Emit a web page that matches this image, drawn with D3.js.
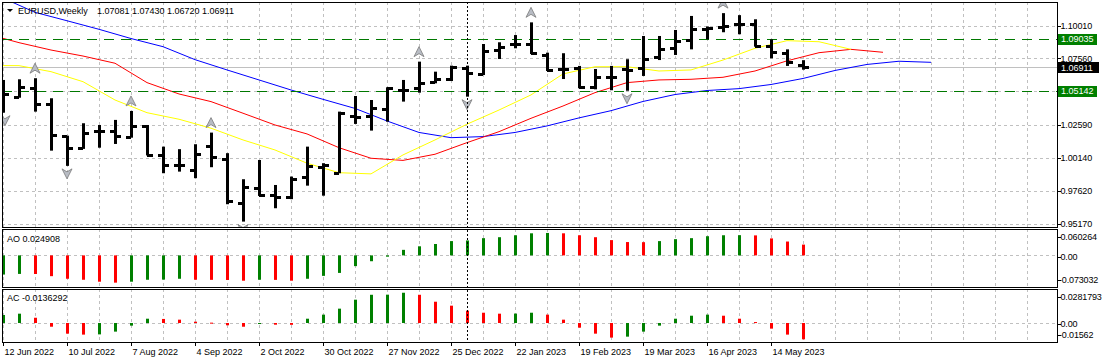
<!DOCTYPE html>
<html>
<head>
<meta charset="utf-8">
<script src="https://cdn.jsdelivr.net/npm/d3@7"></script>
<style>
  body { margin: 0; background: #fff; }
  svg { display: block; }
  text { font-family: "Liberation Sans", Arial, sans-serif; font-size: 9px; fill: #000; }
</style>
</head>
<body>
<script>
var W = 1102, H = 363;

// weekly EURUSD bars, first bar = 12 Jun 2022
var opens  = [1.0505,1.0470,1.0533,1.0413,1.0176,1.0088,1.0216,1.0213,1.0171,1.0253,1.0034,0.9962,0.9922,1.0101,1.0004,0.9673,0.9789,0.9735,0.9722,0.9872,0.9946,0.9901,1.0326,1.0326,1.0376,1.0522,1.0533,1.0582,1.0602,1.0687,1.0640,1.0819,1.0862,1.0862,1.0782,1.0677,1.0687,1.0540,1.0620,1.0675,1.0682,1.0769,1.0836,1.0894,1.0978,1.0989,1.1012,1.1012,1.0849,1.0795,1.07081];
var highs  = [1.0595,1.0600,1.0608,1.0458,1.0178,1.0271,1.0258,1.0296,1.0363,1.0258,1.0096,1.0077,1.0114,1.0201,1.0047,0.9852,0.9996,0.9809,0.9872,1.0096,0.9972,1.0358,1.0475,1.0445,1.0540,1.0595,1.0732,1.0657,1.0702,1.0702,1.0864,1.0877,1.0931,1.1026,1.0799,1.0795,1.0700,1.0677,1.0700,1.0750,1.0924,1.0924,1.0969,1.1074,1.0995,1.1095,1.1080,1.1049,1.0899,1.0824,1.07430];
var lows   = [1.0350,1.0462,1.0358,1.0066,0.9952,1.0079,1.0088,1.0116,1.0163,1.0030,0.9897,0.9909,0.9860,0.9942,0.9665,0.9535,0.9727,0.9635,0.9703,0.9804,0.9729,0.9897,1.0266,1.0216,1.0283,1.0433,1.0500,1.0570,1.0587,1.0470,1.0632,1.0752,1.0832,1.0789,1.0662,1.0602,1.0533,1.0525,1.0518,1.05142,1.0625,1.0744,1.0782,1.0824,1.0899,1.0952,1.0937,1.0844,1.0757,1.0700,1.06720];
var closes = [1.0490,1.0545,1.0415,1.0183,1.0084,1.0201,1.0213,1.0178,1.0253,1.0034,0.9959,0.9959,1.0039,1.0017,0.9690,0.9797,0.9735,0.9722,0.9854,0.9954,0.9960,1.0350,1.0321,1.0388,1.0533,1.0518,1.0575,1.0602,1.0694,1.0645,1.0814,1.0844,1.0866,1.0795,1.0670,1.0680,1.0540,1.0620,1.0615,1.0670,1.0750,1.0827,1.0889,1.0976,1.0982,1.1001,1.1012,1.0849,1.0807,1.0727,1.06911];

// alligator lines read every 2nd bar (jaw from bar 0, teeth and lips from bar -1)
var jaw   = [1.1208,1.1101,1.1038,1.0974,1.0905,1.0844,1.0747,1.0670,1.0595,1.0520,1.0450,1.0382,1.0288,1.0202,1.0163,1.0171,1.0202,1.0251,1.0311,1.0365,1.0434,1.0486,1.0516,1.0530,1.0561,1.0606,1.0666,1.0711,1.0735,1.0727];
var teeth = [1.0939,1.0874,1.0819,1.0774,1.0720,1.0575,1.0490,1.0433,1.0346,1.0258,1.0191,1.0088,1.0009,0.9993,1.0039,1.0126,1.0208,1.0308,1.0400,1.0500,1.0575,1.0595,1.0600,1.0615,1.0662,1.0738,1.0799,1.0824,1.0802];
var lips  = [1.0703,1.0702,1.0657,1.0582,1.0445,1.0350,1.0301,1.0234,1.0146,1.0071,0.9972,0.9901,0.9892,1.0034,1.0146,1.0264,1.0370,1.0483,1.0640,1.0694,1.0694,1.0662,1.0670,1.0744,1.0832,1.0889,1.0881,1.0824];

var fractalUp = [2, 8, 13, 26, 33, 45];
var fractalDown = [0, 4, 15, 29, 39];

var ao = [-0.0443,-0.0428,-0.0430,-0.0480,-0.0540,-0.0563,-0.0608,-0.0630,-0.0608,-0.0563,-0.0560,-0.0540,-0.0563,-0.0565,-0.0568,-0.0585,-0.0563,-0.0566,-0.0585,-0.0540,-0.0473,-0.0405,-0.0248,-0.0135,-0.0030,0.0128,0.0210,0.0263,0.0330,0.0345,0.0398,0.0420,0.0465,0.0510,0.0518,0.0510,0.0465,0.0420,0.0353,0.0308,0.0305,0.0330,0.0375,0.0398,0.0443,0.0465,0.0467,0.0462,0.0392,0.0320,0.024908];
var ac = [0.0067,0.0078,0.0044,-0.0031,-0.0089,-0.0097,-0.0095,-0.0072,-0.0022,0.0036,0.0034,0.0028,0.0011,0.0003,-0.0019,-0.0031,-0.0003,-0.0014,-0.0015,0.0036,0.0070,0.0120,0.0195,0.0236,0.0237,0.0253,0.0236,0.0178,0.0145,0.0103,0.0086,0.0078,0.0079,0.0086,0.0070,0.0028,-0.0039,-0.0089,-0.0122,-0.0114,-0.0072,-0.0022,0.0036,0.0061,0.0070,0.0061,0.0036,0.0008,-0.0047,-0.0097,-0.0136292];

var dateLabels = ['12 Jun 2022','10 Jul 2022','7 Aug 2022','4 Sep 2022','2 Oct 2022','30 Oct 2022','27 Nov 2022','25 Dec 2022','22 Jan 2023','19 Feb 2023','19 Mar 2023','16 Apr 2023','14 May 2023'];
var priceTicks = [1.10010, 1.07560, 1.05110, 1.02590, 1.00140, 0.97620, 0.95170];
var aoTicks = [0.060264, 0, -0.073032];
var acTicks = [0.0281793, 0, -0.01562];
var levels = [1.09035, 1.05142];
var bid = 1.06911;
var markerBar = 29;

var L = 2, R = 1057;
var panels = { main: [2, 227], ao: [229, 287], ac: [289, 342] };

var x = d3.scaleLinear().domain([0, 1]).range([3, 19]);
var y = d3.scaleLinear().domain([0.95170, 1.10010]).range([224, 25.7]);
var yAO = d3.scaleLinear().domain([-0.073032, 0.060264]).range([287, 229.3]);
var yAC = d3.scaleLinear().domain([-0.01562, 0.0281793]).range([341.7, 289.3]);

var svg = d3.select('body').append('svg').attr('width', W).attr('height', H);
var defs = svg.append('defs');
Object.keys(panels).forEach(function(k){
  defs.append('clipPath').attr('id', 'clip-' + k)
    .append('rect').attr('x', L).attr('y', panels[k][0])
    .attr('width', R - L).attr('height', panels[k][1] - panels[k][0]);
});

var grid = '#c0c0c0';
function px(v){ return Math.round(v) + 0.5; }

// vertical grid, all panels
var gridBars = d3.range(0, 66, 2);
Object.keys(panels).forEach(function(k){
  svg.append('g').selectAll('line').data(gridBars).enter().append('line')
    .attr('x1', function(d){ return px(x(d)); }).attr('x2', function(d){ return px(x(d)); })
    .attr('y1', panels[k][0]).attr('y2', panels[k][1])
    .attr('stroke', grid).attr('stroke-dasharray', '3,3');
});

// horizontal grid
svg.append('g').selectAll('line').data(priceTicks).enter().append('line')
  .attr('x1', L).attr('x2', R)
  .attr('y1', function(d){ return px(y(d)); }).attr('y2', function(d){ return px(y(d)); })
  .attr('stroke', grid).attr('stroke-dasharray', '3,3');
[yAO, yAC].forEach(function(sc){
  svg.append('line').attr('x1', L).attr('x2', R)
    .attr('y1', px(sc(0))).attr('y2', px(sc(0)))
    .attr('stroke', grid).attr('stroke-dasharray', '3,3');
});

var main = svg.append('g').attr('clip-path', 'url(#clip-main)');

// bid line
main.append('line').attr('x1', L).attr('x2', R)
  .attr('y1', px(y(bid))).attr('y2', px(y(bid))).attr('stroke', '#c0c0c0');

// alligator
var line = d3.line().x(function(d){ return x(d[0]); }).y(function(d){ return y(d[1]); });
[[jaw, 0, '#0000ff'], [teeth, -1, '#ff0000'], [lips, -1, '#ffff00']].forEach(function(s){
  main.append('path')
    .datum(s[0].map(function(v, i){ return [s[1] + i * 2, v]; }))
    .attr('d', line).attr('fill', 'none').attr('stroke', s[2]).attr('stroke-width', 1);
});

// horizontal levels
main.selectAll('.lvl').data(levels).enter().append('line').attr('class', 'lvl')
  .attr('x1', L).attr('x2', R)
  .attr('y1', function(d){ return px(y(d)); }).attr('y2', function(d){ return px(y(d)); })
  .attr('stroke', '#007800').attr('stroke-dasharray', '10,7');

// OHLC bars
var bars = main.append('g').selectAll('g').data(opens).enter().append('g');
bars.append('rect')
  .attr('x', function(d, i){ return x(i) - 1; })
  .attr('y', function(d, i){ return y(highs[i]); })
  .attr('width', 3)
  .attr('height', function(d, i){ return y(lows[i]) - y(highs[i]); });
bars.append('rect')
  .attr('x', function(d, i){ return x(i) - 5; })
  .attr('y', function(d){ return Math.round(y(d)) - 1; })
  .attr('width', 5).attr('height', 3);
bars.append('rect')
  .attr('x', function(d, i){ return x(i); })
  .attr('y', function(d, i){ return Math.round(y(closes[i])) - 1; })
  .attr('width', 6).attr('height', 3);

// fractals
main.selectAll('.fu').data(fractalUp).enter().append('path').attr('class', 'fu')
  .attr('transform', function(d){ return 'translate(' + x(d) + ',' + (y(highs[d]) - 10) + ')'; })
  .attr('d', 'M0,-5L5,5L0,2L-5,5Z')
  .attr('fill', '#b8bcc4').attr('stroke', '#7a7a7a').attr('stroke-width', 0.8);
main.selectAll('.fd').data(fractalDown).enter().append('path').attr('class', 'fd')
  .attr('transform', function(d){ return 'translate(' + (x(d) + (d === 0 ? 2 : 0)) + ',' + (y(lows[d]) + 8) + ')'; })
  .attr('d', 'M0,5L5,-5L0,-2L-5,-5Z')
  .attr('fill', '#b8bcc4').attr('stroke', '#7a7a7a').attr('stroke-width', 0.8);

// oscillators
function histogram(vals, sc, clip){
  svg.append('g').attr('clip-path', 'url(#clip-' + clip + ')')
    .selectAll('rect').data(vals).enter().append('rect')
    .attr('x', function(d, i){ return x(i) - 1; })
    .attr('y', function(d){ return Math.min(sc(d), sc(0)); })
    .attr('width', 3)
    .attr('height', function(d){ return Math.max(1, Math.abs(sc(d) - sc(0))); })
    .attr('fill', function(d, i){ return (i === 0 || d > vals[i - 1]) ? '#008000' : '#ff0000'; });
}
histogram(ao, yAO, 'ao');
histogram(ac, yAC, 'ac');

// vertical marker line
svg.append('line').attr('x1', px(x(markerBar))).attr('x2', px(x(markerBar)))
  .attr('y1', 2).attr('y2', 342).attr('stroke', '#000').attr('stroke-dasharray', '2,2');

// panel frames
Object.keys(panels).forEach(function(k){
  svg.append('rect').attr('x', L + 0.5).attr('y', panels[k][0] + 0.5)
    .attr('width', R - L).attr('height', panels[k][1] - panels[k][0])
    .attr('fill', 'none').attr('stroke', '#000');
});

// right axis labels
function axisLabels(ticks, sc, fmt, pos){
  var g = svg.append('g');
  g.selectAll('line').data(ticks).enter().append('line')
    .attr('x1', R).attr('x2', R + 4)
    .attr('y1', function(d, i){ return px(pos ? pos[i] : sc(d)); })
    .attr('y2', function(d, i){ return px(pos ? pos[i] : sc(d)); })
    .attr('stroke', '#000');
  g.selectAll('text').data(ticks).enter().append('text')
    .attr('x', function(d){ return d < 0 ? 1059 : 1060.5; })
    .attr('y', function(d, i){ return pos ? pos[i] : sc(d); })
    .attr('dy', '0.35em')
    .style('letter-spacing', '-0.15px')
    .text(fmt);
}
axisLabels(priceTicks, y, function(d){ return d.toFixed(5); });
axisLabels(aoTicks, yAO, function(d){ return d === 0 ? '0.00' : String(d); }, [237, 256.5, 280]);
axisLabels(acTicks, yAC, function(d){ return d === 0 ? '0.00' : String(d); }, [296.5, 323.5, 335.3]);

// price boxes
var boxes = levels.map(function(v){ return { v: v, c: '#008000', w: 39 }; })
  .concat([{ v: bid, c: '#000', w: 41 }]);
var bx = svg.append('g').selectAll('g').data(boxes).enter().append('g');
bx.append('rect').attr('x', 1058).attr('y', function(d){ return Math.round(y(d.v)) - 5; })
  .attr('width', function(d){ return d.w; }).attr('height', 11).attr('fill', function(d){ return d.c; });
bx.append('text').attr('x', 1061).attr('y', function(d){ return y(d.v); }).attr('dy', '0.38em')
  .style('fill', '#fff').text(function(d){ return d.v.toFixed(5); });

// date axis
var dates = svg.append('g').selectAll('g').data(dateLabels).enter().append('g')
  .attr('transform', function(d, i){ return 'translate(' + px(x(i * 4)) + ',342)'; });
dates.append('line').attr('y1', 0).attr('y2', 4).attr('stroke', '#000');
dates.append('text').attr('x', 1).attr('y', 10).attr('dy', '0.35em').text(function(d){ return d; });

// titles
var n = closes.length - 1;
svg.append('path').attr('d', 'M7,9L13,9L10,12Z').attr('fill', '#000');
svg.append('text').attr('x', 18).attr('y', 11).attr('dy', '0.35em').text('EURUSD,Weekly');
svg.append('text').attr('x', 97).attr('y', 11).attr('dy', '0.35em')
  .text([opens[n], highs[n], lows[n], closes[n]].map(function(v){ return v.toFixed(5); }).join(' '));
svg.append('text').attr('x', 7).attr('y', 239).attr('dy', '0.35em').text('AO ' + ao[n].toFixed(6));
svg.append('text').attr('x', 7).attr('y', 298).attr('dy', '0.35em').text('AC ' + ac[n].toFixed(7));
</script>
</body>
</html>
